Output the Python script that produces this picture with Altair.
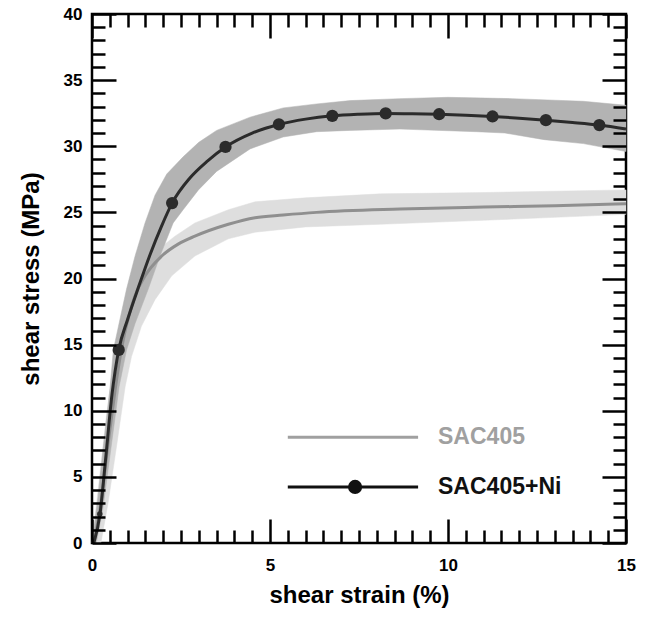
import altair as alt
import pandas as pd

# ---------------- data ----------------
# SAC405+Ni mean curve
ni_x = [0.05, 0.23, 0.37, 0.56, 0.75, 1.0, 1.3, 1.63, 1.96, 2.25, 2.75, 3.25, 3.75, 4.5,
        5.25, 6.0, 6.75, 7.5, 8.25, 9.0, 9.75, 10.5, 11.25, 12.0, 12.75, 13.5, 14.25, 15.0]
ni_y = [0.0, 2.3, 6.0, 11.2, 14.6, 16.9, 19.3, 21.8, 24.0, 25.7, 27.6, 28.9, 29.95, 31.0,
        31.65, 32.05, 32.3, 32.42, 32.48, 32.46, 32.42, 32.35, 32.25, 32.12, 31.97, 31.8, 31.6, 31.3]
# SAC405+Ni markers
mk_x = [0.75, 2.25, 3.75, 5.25, 6.75, 8.25, 9.75, 11.25, 12.75, 14.25]
mk_y = [14.6, 25.7, 29.95, 31.65, 32.3, 32.48, 32.42, 32.25, 31.97, 31.6]
# small first marker near the origin
mk0_x = [0.22]
mk0_y = [2.2]
# SAC405+Ni scatter band (upper edge left->right, lower edge right->left)
ni_up_x = [0.0, 0.15, 0.33, 0.51, 0.6, 0.76, 0.97, 1.21, 1.49, 1.77, 2.1, 2.56, 3.0, 3.5,
           4.44, 5.37, 6.31, 7.25, 8.65, 10.0, 11.8, 13.8, 15.0]
ni_up_y = [0.0, 3.0, 7.5, 11.8, 14.6, 16.6, 19.2, 21.7, 24.2, 26.3, 27.9, 29.2, 30.3, 31.2,
           32.2, 32.9, 33.2, 33.45, 33.6, 33.7, 33.6, 33.4, 33.1]
ni_lo_x = [15.0, 13.8, 12.7, 11.6, 10.8, 8.65, 7.25, 6.31, 5.37, 4.44, 3.5, 2.99, 2.56, 2.28,
           1.91, 1.58, 1.21, 0.97, 0.76, 0.5, 0.3, 0.12]
ni_lo_y = [29.6, 30.2, 30.5, 31.0, 31.1, 31.3, 31.2, 31.1, 30.7, 29.8, 28.1, 26.7, 25.2, 24.2,
           21.7, 19.2, 16.6, 14.6, 11.8, 6.5, 2.5, 0.0]

# SAC405 mean curve
sac_x = [0.05, 0.25, 0.45, 0.65, 0.76, 0.88, 1.02, 1.21, 1.49, 1.96, 2.42, 2.89, 3.83, 4.58,
         5.37, 6.31, 8.65, 11.0, 13.0, 15.0]
sac_y = [0.0, 3.0, 7.5, 11.6, 13.6, 15.4, 17.0, 18.7, 20.2, 21.7, 22.6, 23.2, 24.1, 24.6,
         24.8, 25.0, 25.25, 25.4, 25.5, 25.65]
# SAC405 scatter band
sac_up_x = [0.0, 0.15, 0.4, 0.6, 0.85, 1.2, 1.6, 2.0, 2.33, 2.89, 3.83, 4.58, 6.0, 8.1, 11.0, 15.0]
sac_up_y = [0.0, 3.5, 9.5, 13.5, 16.8, 19.6, 21.4, 22.5, 23.2, 24.2, 25.2, 25.8, 26.1, 26.4, 26.5, 26.7]
sac_lo_x = [15.0, 11.0, 8.1, 6.0, 4.58, 3.83, 2.89, 2.24, 1.77, 1.39, 1.11, 0.93, 0.7, 0.45, 0.25]
sac_lo_y = [24.85, 24.4, 24.1, 23.9, 23.5, 23.0, 21.7, 20.2, 18.4, 16.4, 14.1, 11.8, 7.5, 3.0, 0.0]

# legend
leg_names = ["SAC405", "SAC405+Ni"]
leg_x1, leg_x2, leg_mark_x, leg_text_x = 5.5, 9.16, 7.39, 9.72
leg_y = [8.0, 4.24]

x_major = [0, 5, 10, 15]
x_minor = [v / 2 for v in range(0, 31) if v % 10 != 0]
y_major = [0, 5, 10, 15, 20, 25, 30, 35, 40]
y_minor = [v for v in range(0, 41) if v % 5 != 0]

# ---------------- tables ----------------
def poly(ux, uy, lx, ly):
    xs = list(ux) + list(lx)
    ys = list(uy) + list(ly)
    return pd.DataFrame({"x": xs, "y": ys, "i": list(range(len(xs)))})

ni_band = poly(ni_up_x, ni_up_y, ni_lo_x, ni_lo_y)
sac_band = poly(sac_up_x, sac_up_y, sac_lo_x, sac_lo_y)
ni_df = pd.DataFrame({"x": ni_x, "y": ni_y})
sac_df = pd.DataFrame({"x": sac_x, "y": sac_y})
mk_df = pd.DataFrame({"x": mk_x, "y": mk_y})
mk0_df = pd.DataFrame({"x": mk0_x, "y": mk0_y})
leg_lines = pd.DataFrame({
    "x": [leg_x1, leg_x2, leg_x1, leg_x2],
    "y": [leg_y[0], leg_y[0], leg_y[1], leg_y[1]],
    "s": [leg_names[0], leg_names[0], leg_names[1], leg_names[1]],
})
leg_mark = pd.DataFrame({"x": [leg_mark_x], "y": [leg_y[1]]})
leg_text = pd.DataFrame({"x": [leg_text_x, leg_text_x], "y": leg_y, "s": leg_names})

# ---------------- styling ----------------
W, H = 534, 529
FONT = "Liberation Sans"
xs_ = alt.Scale(domain=[0, 15], nice=False, zero=False)
ys_ = alt.Scale(domain=[0, 40], nice=False, zero=False)
TW = 2.5


def tick_axis(orient, offset, values, size):
    return alt.Axis(orient=orient, offset=offset, values=values, ticks=True, tickSize=size,
                    tickWidth=TW, tickColor="black", tickOpacity=1, labels=False,
                    domain=False, grid=False, zindex=2, title=None)


x_label_axis = alt.Axis(orient="bottom", values=x_major, ticks=False, domain=False, grid=False,
                        labelFont=FONT, labelFontSize=17, labelFontWeight="bold",
                        labelColor="black", labelPadding=14, labelFlush=False,
                        title="shear strain (%)", titleFont=FONT, titleFontSize=24,
                        titleFontWeight="bold", titleColor="black", titlePadding=10)
y_label_axis = alt.Axis(orient="left", values=y_major, ticks=False, domain=False, grid=False,
                        labelFont=FONT, labelFontSize=17, labelFontWeight="bold",
                        labelColor="black", labelPadding=10, labelFlush=False,
                        title="shear stress (MPa)", titleFont=FONT, titleFontSize=24,
                        titleFontWeight="bold", titleColor="black", titlePadding=20)


def X(axis):
    if axis is None:
        return alt.X("x:Q", scale=xs_, axis=None, title=None)
    return alt.X("x:Q", scale=xs_, axis=axis)


def Y(axis):
    if axis is None:
        return alt.Y("y:Q", scale=ys_, axis=None, title=None)
    return alt.Y("y:Q", scale=ys_, axis=axis)


sac_band_layer = alt.Chart(sac_band).mark_line(
    fill="#dedede", stroke="#dedede", strokeWidth=0.5
).encode(x=X(x_label_axis), y=Y(y_label_axis), order="i:Q")

ni_band_layer = alt.Chart(ni_band).mark_line(
    fill="#b3b3b3", stroke="#b3b3b3", strokeWidth=0.5
).encode(x=X(tick_axis("top", -H, x_major, 24)), y=Y(tick_axis("right", -W, y_major, 24)),
         order="i:Q")

sac_line = alt.Chart(sac_df).mark_line(
    color="#8f8f8f", strokeWidth=3, interpolate="monotone"
).encode(x=X(tick_axis("top", -H, x_minor, 13)), y=Y(tick_axis("right", -W, y_minor, 13)))

ni_line = alt.Chart(ni_df).mark_line(
    color="#2b2b2b", strokeWidth=3, interpolate="monotone"
).encode(x=X(tick_axis("bottom", -H, x_major, 24)), y=Y(tick_axis("left", -W, y_major, 24)))

markers = alt.Chart(mk_df).mark_point(
    shape="circle", filled=True, size=150, color="#2b2b2b", opacity=1
).encode(x=X(tick_axis("bottom", -H, x_minor, 13)), y=Y(tick_axis("left", -W, y_minor, 13)))

marker0 = alt.Chart(mk0_df).mark_point(
    shape="circle", filled=True, size=30, color="#2b2b2b", opacity=1
).encode(x=X(None), y=Y(None))

legend_lines = alt.Chart(leg_lines).mark_line(strokeWidth=3).encode(
    x=X(None), y=Y(None), detail="s:N",
    color=alt.Color("s:N", scale=alt.Scale(domain=leg_names, range=["#a0a0a0", "#111111"]),
                    legend=None),
)
legend_marker = alt.Chart(leg_mark).mark_point(
    shape="circle", filled=True, size=200, color="#111111", opacity=1
).encode(x=X(None), y=Y(None))
legend_text = alt.Chart(leg_text).mark_text(
    align="left", baseline="middle", font=FONT, fontSize=23, fontWeight="bold"
).encode(
    x=X(None), y=Y(None), text="s:N",
    color=alt.Color("s:N", scale=alt.Scale(domain=leg_names, range=["#a6a6a6", "#111111"]),
                    legend=None),
)

chart = alt.layer(
    sac_band_layer, ni_band_layer, sac_line, ni_line, markers, marker0,
    legend_lines, legend_marker, legend_text,
).resolve_axis(x="independent", y="independent").properties(
    width=W, height=H,
    autosize=alt.AutoSizeParams(type="none"),
    padding={"left": 92, "top": 14, "right": 22, "bottom": 76},
    background="white",
).configure_view(stroke="black", strokeWidth=2.5)

chart.save("out.html", embed_options={"renderer": "svg", "actions": False})
